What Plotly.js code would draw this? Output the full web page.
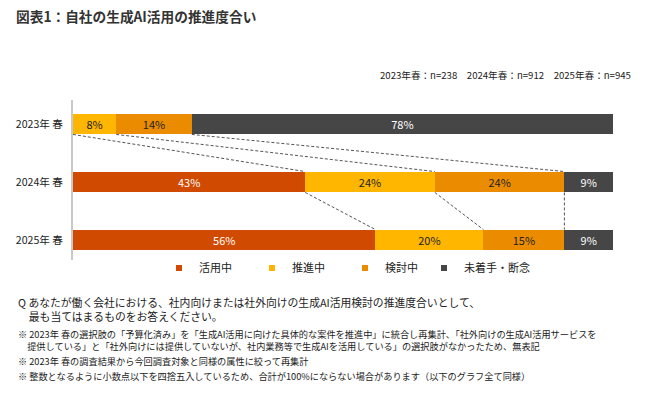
<!DOCTYPE html>
<html><head><meta charset="utf-8">
<script src="https://cdn.plot.ly/plotly-3.0.1.min.js"></script>
<style>html,body{margin:0;padding:0;background:#fff}#chart{width:663px;height:394px}</style>
</head><body><div id="chart"></div>
<script>
const years = ["2023年 春", "2024年 春", "2025年 春"];
const seriesNames = ["活用中", "推進中", "検討中", "未着手・断念"];
const katsuyou = [null, 43, 56];
const suishin = [8, 24, 20];
const kentou = [14, 24, 15];
const michakushu = [78, 9, 9];
const seriesColors = ["#D04A02", "#FFB600", "#EB8C00", "#464646"];
const textColors = ["#ffffff", "#222222", "#222222", "#ffffff"];
const sampleNote = "2023年春：n=238　2024年春：n=912　2025年春：n=945";
const chartTitle = "図表1：自社の生成AI活用の推進度合い";
const questionText = ["Q あなたが働く会社における、社内向けまたは社外向けの生成AI活用検討の推進度合いとして、", "最も当てはまるものをお答えください。"];
const notes = [
  "※ 2023年 春の選択肢の「予算化済み」を「生成AI活用に向けた具体的な案件を推進中」に統合し再集計、「社外向けの生成AI活用サービスを",
  "提供している」と「社外向けには提供していないが、社内業務等で生成AIを活用している」の選択肢がなかったため、無表記",
  "※ 2023年 春の調査結果から今回調査対象と同様の属性に絞って再集計",
  "※ 整数となるように小数点以下を四捨五入しているため、合計が100%にならない場合があります（以下のグラフ全て同様）"
];

const allSeries = [katsuyou, suishin, kentou, michakushu];
const yIdx = years.map((_, i) => i);
const barW = 0.36;
const font = '"Noto Sans CJK JP", "Noto Sans", sans-serif';

const traces = [];
allSeries.forEach((vals, k) => {
  traces.push({
    type: 'bar', orientation: 'h', name: seriesNames[k],
    x: vals, y: yIdx, width: barW,
    marker: {color: seriesColors[k], line: {width: 0}},
    text: vals.map(v => v == null ? '' : v + '%'),
    textposition: 'inside', insidetextanchor: 'middle', constraintext: 'none',
    textfont: {color: textColors[k], size: 11, family: font},
    hoverinfo: 'none', showlegend: false
  });
});
// connectors
function cum(row, k) { let s = 0; for (let j = 0; j < k; j++) s += (allSeries[j][row] || 0); return s; }
for (let i = 0; i < years.length - 1; i++) {
  for (let k = 1; k < allSeries.length; k++) {
    traces.push({
      type: 'scatter', mode: 'lines',
      x: [cum(i, k), cum(i + 1, k)], y: [i + barW / 2, i + 1 - barW / 2],
      line: {color: '#555555', width: 1, dash: '3px,2px'},
      hoverinfo: 'none', showlegend: false
    });
  }
}
// legend entries
seriesNames.forEach((n, k) => {
  traces.push({type: 'scatter', mode: 'markers', name: n, x: [null], y: [null],
    legend: k === seriesNames.length - 1 ? 'legend2' : 'legend',
    marker: {symbol: 'square', size: 6, color: seriesColors[k]}, hoverinfo: 'none'});
});

const L = 73, R = 613, T = 100, B = 260;
const px = x => (x - L) / (R - L);
const py = y => (B - y) / (B - T);
const ann = [];
ann.push({text: sampleNote, xref: 'paper', yref: 'paper', x: px(633), y: py(75), xanchor: 'right', yanchor: 'middle', showarrow: false, font: {size: 9.6, color: '#222', family: font}});
ann.push({text: questionText[0] + '<br>　' + questionText[1], align: 'left', xref: 'paper', yref: 'paper', x: px(16), y: py(309), xanchor: 'left', yanchor: 'middle', showarrow: false, font: {size: 10.8, color: '#222', family: font}});
ann.push({text: notes[0] + '<br>　' + notes[1], align: 'left', xref: 'paper', yref: 'paper', x: px(16), y: py(340), xanchor: 'left', yanchor: 'middle', showarrow: false, font: {size: 9.2, color: '#222', family: font}});
ann.push({text: notes[2], xref: 'paper', yref: 'paper', x: px(16), y: py(361), xanchor: 'left', yanchor: 'middle', showarrow: false, font: {size: 9.2, color: '#222', family: font}});
ann.push({text: notes[3], xref: 'paper', yref: 'paper', x: px(16), y: py(376), xanchor: 'left', yanchor: 'middle', showarrow: false, font: {size: 9.2, color: '#222', family: font}});

const legendFont = {size: 11, color: '#222', family: font};
const layout = {
  width: 663, height: 394,
  margin: {l: L, r: 663 - R, t: T, b: 394 - B},
  paper_bgcolor: '#fff', plot_bgcolor: '#fff',
  barmode: 'stack', bargap: 0,
  font: {family: font, color: '#222'},
  title: {text: '<b>' + chartTitle + '</b>', x: 16 / 663, xanchor: 'left', xref: 'container', y: 1 - 17 / 394, yanchor: 'middle', yref: 'container', font: {size: 13.7, color: '#333', family: font}},
  xaxis: {range: [0, 100], showgrid: false, zeroline: false, showticklabels: false, ticks: '', fixedrange: true},
  yaxis: {range: [2 + 20 / 58, -24 / 58], tickvals: yIdx, ticktext: years, showgrid: false, zeroline: false,
    showline: true, linecolor: '#c8c8c8', linewidth: 2, ticks: '', ticklabelstandoff: 6,
    tickfont: {size: 10.6, color: '#222', family: font}},
  showlegend: true,
  legend: {orientation: 'h', traceorder: 'normal', x: px(159), xanchor: 'left', y: py(268), yanchor: 'middle', entrywidth: 48, itemwidth: 30,
    font: legendFont, bgcolor: 'rgba(0,0,0,0)'},
  legend2: {orientation: 'h', traceorder: 'normal', x: px(424), xanchor: 'left', y: py(268), yanchor: 'middle', itemwidth: 30,
    font: legendFont, bgcolor: 'rgba(0,0,0,0)'},
  annotations: ann
};
Plotly.newPlot('chart', traces, layout, {staticPlot: true, displayModeBar: false});
</script></body></html>
